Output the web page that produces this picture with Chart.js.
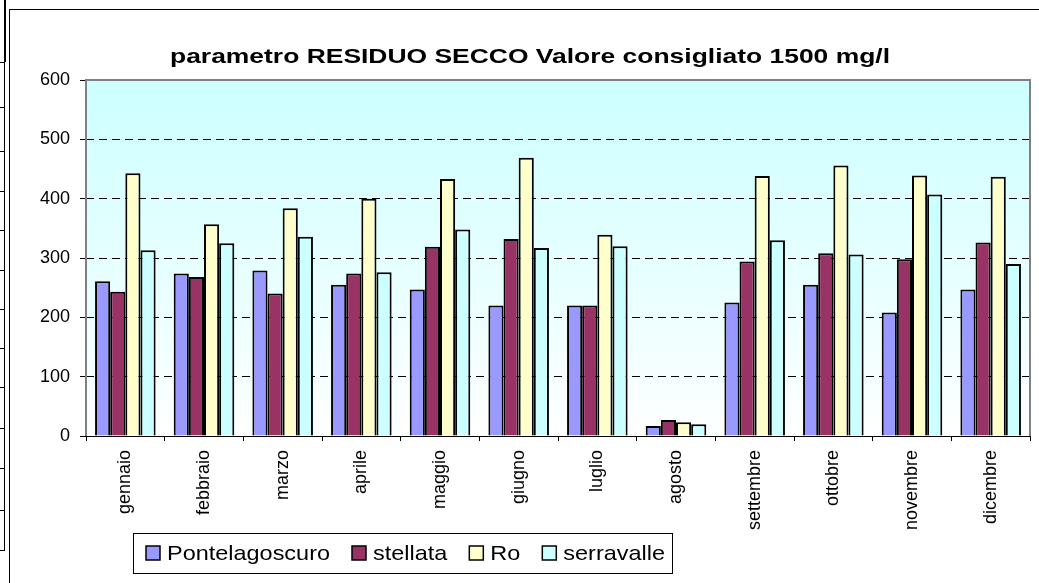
<!DOCTYPE html>
<html>
<head>
<meta charset="utf-8">
<script src="https://cdn.jsdelivr.net/npm/chart.js@4.4.1/dist/chart.umd.min.js"></script>
<style>
  html, body { margin: 0; padding: 0; background: #fff; overflow: hidden; }
  body { width: 1039px; height: 583px; position: relative; }
  #frame { position: absolute; left: 9px; top: 9px; width: 1100px; height: 700px; border: 1px solid #000; }
  #cells { position: absolute; left: 0; top: 0; width: 6px; height: 583px; }
  #cells .v { position: absolute; left: 4px; width: 1px; background: #000; }
  #cells .h { position: absolute; left: 0; width: 5px; height: 1px; background: #000; }
  #chart { position: absolute; left: 0; top: 0; }
</style>
</head>
<body>
<div id="cells">
  <div class="v" style="top:0;height:62px;width:2px;"></div>
  <div class="v" style="top:62px;height:488px;"></div>
  <div class="h" style="top:62px"></div>
  <div class="h" style="top:107px"></div>
  <div class="h" style="top:151px"></div>
  <div class="h" style="top:191px"></div>
  <div class="h" style="top:230px"></div>
  <div class="h" style="top:270px"></div>
  <div class="h" style="top:309px"></div>
  <div class="h" style="top:348px"></div>
  <div class="h" style="top:387px"></div>
  <div class="h" style="top:428px"></div>
  <div class="h" style="top:468px"></div>
  <div class="h" style="top:510px"></div>
  <div class="h" style="top:550px"></div>
</div>
<div id="frame"></div>
<canvas id="chart" width="1039" height="583"></canvas>
<script>
const months = ['gennaio', 'febbraio', 'marzo', 'aprile', 'maggio', 'giugno', 'luglio', 'agosto', 'settembre', 'ottobre', 'novembre', 'dicembre'];
const pontelagoscuro = [261, 274, 279, 255, 247, 220, 220, 17, 225, 255, 208, 247];
const stellata = [243, 268, 240, 274, 319, 332, 220, 27, 294, 308, 298, 326];
const ro = [443, 357, 384, 400, 433, 469, 339, 23, 438, 456, 439, 437];
const serravalle = [313, 325, 336, 276, 348, 317, 320, 20, 330, 306, 407, 290];
const yTicks = [0, 100, 200, 300, 400, 500, 600];
const titleText = 'parametro RESIDUO SECCO Valore consigliato 1500 mg/l';

const FONT = "'Liberation Sans', Arial, sans-serif";
Chart.defaults.font.family = FONT;
Chart.defaults.color = '#000';

// the original text is a bit wider than the font: stretch it sideways
function wideText(ctx, text, x, y, sx) {
  ctx.save();
  ctx.translate(x, y);
  ctx.scale(sx, 1);
  ctx.fillText(text, 0, 0);
  ctx.restore();
}

const plotBackground = {
  id: 'plotBackground',
  beforeDraw(chart) {
    const { ctx, chartArea: a } = chart;
    const g = ctx.createLinearGradient(0, a.top, 0, a.bottom);
    g.addColorStop(0, '#ccffff');
    g.addColorStop(1, '#ffffff');
    ctx.save();
    ctx.fillStyle = g;
    ctx.fillRect(a.left, a.top, a.right - a.left, a.bottom - a.top);
    ctx.restore();
  },
  beforeDatasetsDraw(chart) {
    const { ctx, chartArea: a } = chart;
    ctx.save();
    ctx.strokeStyle = '#808080';
    ctx.lineWidth = 2;
    ctx.beginPath();
    ctx.moveTo(a.left, a.bottom);
    ctx.lineTo(a.left, a.top);
    ctx.lineTo(a.right, a.top);
    ctx.lineTo(a.right, a.bottom);
    ctx.stroke();
    ctx.strokeStyle = '#000';
    ctx.lineWidth = 1;
    ctx.beginPath();
    ctx.moveTo(a.left, a.bottom + 0.5);
    ctx.lineTo(a.right, a.bottom + 0.5);
    ctx.stroke();
    ctx.restore();
  },
};

const wideTitle = {
  id: 'wideTitle',
  afterDraw(chart) {
    const { ctx } = chart;
    ctx.save();
    ctx.font = `bold 21px ${FONT}`;
    ctx.fillStyle = '#000';
    ctx.textBaseline = 'alphabetic';
    const w = ctx.measureText(titleText).width;
    const sx = 720 / w;
    wideText(ctx, titleText, 170, 63, sx);
    ctx.restore();
  },
};

// legend box under the month labels
const boxLegend = {
  id: 'boxLegend',
  afterDraw(chart) {
    const { ctx } = chart;
    const sets = chart.data.datasets;
    ctx.save();
    ctx.font = `21px ${FONT}`;
    ctx.textBaseline = 'alphabetic';
    const sx = 163 / ctx.measureText('Pontelagoscuro').width;
    ctx.strokeStyle = '#000';
    ctx.lineWidth = 1;
    ctx.strokeRect(133.5, 533.5, 539, 40);
    let x = 146;
    const cy = 553;
    sets.forEach((ds) => {
      ctx.fillStyle = ds.backgroundColor;
      ctx.fillRect(x, cy - 7, 14, 14);
      ctx.lineWidth = 1.5;
      ctx.strokeRect(x, cy - 7, 14, 14);
      ctx.fillStyle = '#000';
      wideText(ctx, ds.label, x + 21, cy + 7, sx);
      x += 21 + ctx.measureText(ds.label).width * sx + 22;
    });
    ctx.restore();
  },
};

const bar = (label, data, color) => ({
  label, data, backgroundColor: color, borderColor: '#000', borderWidth: 2,
  categoryPercentage: 0.77, barPercentage: 1.0,
});

new Chart(document.getElementById('chart'), {
  type: 'bar',
  data: {
    labels: months,
    datasets: [
      bar('Pontelagoscuro', pontelagoscuro, '#9999ff'),
      bar('stellata', stellata, '#993366'),
      bar('Ro', ro, '#ffffcc'),
      bar('serravalle', serravalle, '#ccffff'),
    ],
  },
  options: {
    responsive: false,
    animation: false,
    layout: { padding: { left: 30, right: 9, top: 80, bottom: 0 } },
    plugins: {
      legend: { display: false },
      tooltip: { enabled: false },
      title: { display: false },
    },
    scales: {
      x: {
        afterFit(scale) { scale.height = 147; },
        grid: {
          display: true, drawOnChartArea: false, offset: true,
          tickLength: 5, tickColor: '#000', tickBorderDash: [],
        },
        border: { display: false },
        ticks: { font: { size: 18 }, color: '#000', minRotation: 90, maxRotation: 90, padding: 9, autoSkip: false },
      },
      y: {
        min: 0, max: 600,
        afterFit(scale) { scale.width = 56; },
        afterBuildTicks(scale) { scale.ticks = yTicks.map((v) => ({ value: v })); },
        grid: {
          color: (c) => (c.tick && (c.tick.value === 0 || c.tick.value === 600) ? 'rgba(0,0,0,0)' : '#000'),
          borderDash: [8, 5],
          tickLength: 6, tickColor: '#000', tickBorderDash: [],
        },
        border: { display: false, dash: [8, 5] },
        ticks: { font: { size: 18 }, color: '#000', padding: 10 },
      },
    },
  },
  plugins: [plotBackground, wideTitle, boxLegend],
});
</script>
</body>
</html>
